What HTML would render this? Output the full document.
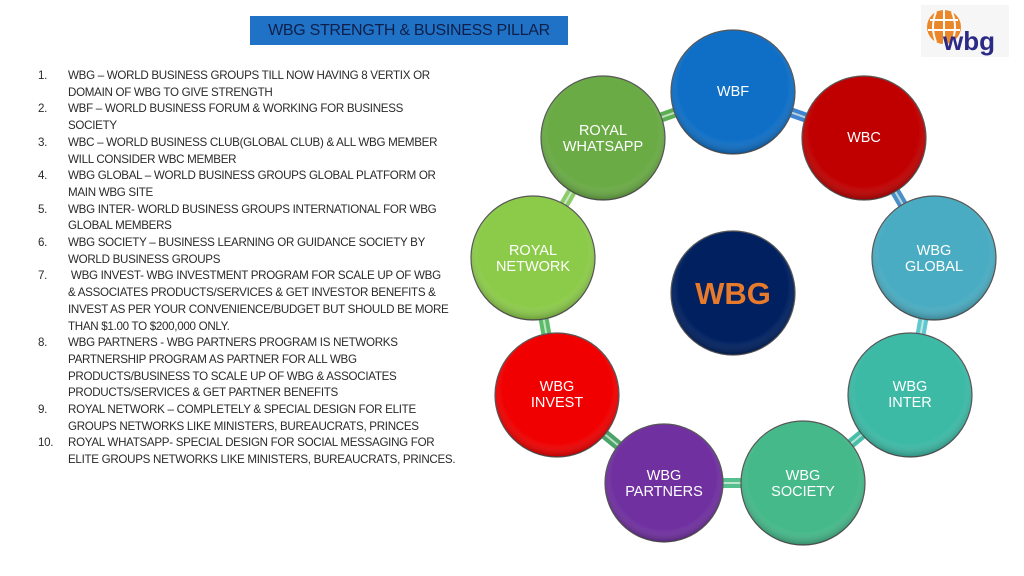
<!DOCTYPE html>
<html><head><meta charset="utf-8"><style>
body{margin:0;width:1024px;height:576px;background:#fff;overflow:hidden;position:relative;font-family:"Liberation Sans",sans-serif}
.title{position:absolute;left:250px;top:16px;width:318px;height:29px;background:#1f72c6;color:#0f1f4a;font-size:16px;line-height:29px;text-align:center;letter-spacing:-0.3px}
.l{position:absolute;font-size:11.6px;color:#2a2a2a;white-space:nowrap;letter-spacing:-0.3px;line-height:14px}
</style></head><body>
<div class="title">WBG STRENGTH &amp; BUSINESS PILLAR</div>
<div id="list"></div>
<div style="position:absolute;left:921px;top:5px;width:88px;height:52px;background:#f6f6f6"></div>
<svg width="1024" height="576" style="position:absolute;left:0;top:0">
<defs>
<radialGradient id="sh" cx="50%" cy="45%" r="55%"><stop offset="80%" stop-color="#fff" stop-opacity="0"/><stop offset="100%" stop-color="#000" stop-opacity="0.25"/></radialGradient>
</defs>
<circle cx="944" cy="27" r="17" fill="#e9872a"/>
<path d="M930 20h28M928 30h32M944 10v34M936 12q-6 15 0 30M952 12q6 15 0 30" stroke="#fff" stroke-width="2" fill="none"/>
<text x="943" y="50" font-family="Liberation Sans" font-weight="bold" font-size="26" fill="#2b2a86">wbg</text>
<g stroke-width="10" stroke-linecap="butt">
<line x1="603" y1="138" x2="733" y2="92" stroke="#5cae52"/>
<line x1="733" y1="92" x2="864" y2="138" stroke="#3f84d0"/>
<line x1="864" y1="138" x2="934" y2="258" stroke="#4a90c8"/>
<line x1="934" y1="258" x2="910" y2="395" stroke="#5fc8d0"/>
<line x1="910" y1="395" x2="803" y2="483" stroke="#45bfa8"/>
<line x1="803" y1="483" x2="664" y2="483" stroke="#55bf8e"/>
<line x1="664" y1="483" x2="557" y2="395" stroke="#4ca36a"/>
<line x1="557" y1="395" x2="533" y2="258" stroke="#5cbc6a"/>
<line x1="533" y1="258" x2="603" y2="138" stroke="#8ccc6a"/>
</g>
<g stroke="#e8f5e8" stroke-width="2" opacity="0.7">
<line x1="603" y1="138" x2="733" y2="92"/><line x1="733" y1="92" x2="864" y2="138"/><line x1="864" y1="138" x2="934" y2="258"/><line x1="934" y1="258" x2="910" y2="395"/><line x1="910" y1="395" x2="803" y2="483"/><line x1="803" y1="483" x2="664" y2="483"/><line x1="664" y1="483" x2="557" y2="395"/><line x1="557" y1="395" x2="533" y2="258"/><line x1="533" y1="258" x2="603" y2="138"/>
</g>
<g stroke="#555" stroke-width="1.2">
<circle cx="733" cy="92" r="62" fill="#0f6fc6"/>
<circle cx="864" cy="138" r="62" fill="#c00000"/>
<circle cx="934" cy="258" r="62" fill="#4aacc2"/>
<circle cx="910" cy="395" r="62" fill="#3dbaa6"/>
<circle cx="803" cy="483" r="62" fill="#45b98a"/>
<circle cx="664" cy="483" r="59" fill="#7030a0"/>
<circle cx="557" cy="395" r="62" fill="#f00000"/>
<circle cx="533" cy="258" r="62" fill="#8ccb4a"/>
<circle cx="603" cy="138" r="62" fill="#6aab45"/>
<circle cx="733" cy="293" r="62" fill="#002060"/>
</g>
<g fill="url(#sh)">
<circle cx="733" cy="92" r="62"/><circle cx="864" cy="138" r="62"/><circle cx="934" cy="258" r="62"/><circle cx="910" cy="395" r="62"/><circle cx="803" cy="483" r="62"/><circle cx="664" cy="483" r="59"/><circle cx="557" cy="395" r="62"/><circle cx="533" cy="258" r="62"/><circle cx="603" cy="138" r="62"/><circle cx="733" cy="293" r="62"/>
</g>
<g fill="#fff" font-family="Liberation Sans" font-size="14.5" text-anchor="middle">
<text x="733" y="96">WBF</text>
<text x="864" y="142">WBC</text>
<text x="934" y="255">WBG</text><text x="934" y="271">GLOBAL</text>
<text x="910" y="391">WBG</text><text x="910" y="407">INTER</text>
<text x="803" y="480">WBG</text><text x="803" y="496">SOCIETY</text>
<text x="664" y="480">WBG</text><text x="664" y="496">PARTNERS</text>
<text x="557" y="391">WBG</text><text x="557" y="407">INVEST</text>
<text x="533" y="255">ROYAL</text><text x="533" y="271">NETWORK</text>
<text x="603" y="135">ROYAL</text><text x="603" y="151">WHATSAPP</text>
</g>
<text x="733" y="304" text-anchor="middle" font-family="Liberation Sans" font-weight="bold" font-size="31" fill="#e87a2c">WBG</text>
</svg>
<script>
var L=[["1.","WBG – WORLD BUSINESS GROUPS TILL NOW HAVING 8 VERTIX OR"],["","DOMAIN OF WBG TO GIVE STRENGTH"],["2.","WBF – WORLD BUSINESS FORUM &amp; WORKING FOR BUSINESS"],["","SOCIETY"],["3.","WBC – WORLD BUSINESS CLUB(GLOBAL CLUB) &amp; ALL WBG MEMBER"],["","WILL CONSIDER WBC MEMBER"],["4.","WBG GLOBAL – WORLD BUSINESS GROUPS GLOBAL PLATFORM OR"],["","MAIN WBG SITE"],["5.","WBG INTER- WORLD BUSINESS GROUPS INTERNATIONAL FOR WBG"],["","GLOBAL MEMBERS"],["6.","WBG SOCIETY – BUSINESS LEARNING OR GUIDANCE SOCIETY BY"],["","WORLD BUSINESS GROUPS"],["7.","&nbsp;WBG INVEST- WBG INVESTMENT PROGRAM FOR SCALE UP OF WBG"],["","&amp; ASSOCIATES PRODUCTS/SERVICES &amp; GET INVESTOR BENEFITS &amp;"],["","INVEST AS PER YOUR CONVENIENCE/BUDGET BUT SHOULD BE MORE"],["","THAN $1.00 TO $200,000 ONLY."],["8.","WBG PARTNERS - WBG PARTNERS PROGRAM IS NETWORKS"],["","PARTNERSHIP PROGRAM AS PARTNER FOR ALL WBG"],["","PRODUCTS/BUSINESS TO SCALE UP OF WBG &amp; ASSOCIATES"],["","PRODUCTS/SERVICES &amp; GET PARTNER BENEFITS"],["9.","ROYAL NETWORK – COMPLETELY &amp; SPECIAL DESIGN FOR ELITE"],["","GROUPS NETWORKS LIKE MINISTERS, BUREAUCRATS, PRINCES"],["10.","ROYAL WHATSAPP- SPECIAL DESIGN FOR SOCIAL MESSAGING FOR"],["","ELITE GROUPS NETWORKS LIKE MINISTERS, BUREAUCRATS, PRINCES."]];
var h="";for(var i=0;i<L.length;i++){var y=69+i*16.7;if(L[i][0])h+='<div class="l" style="left:38px;top:'+y+'px">'+L[i][0]+'</div>';h+='<div class="l" style="left:68px;top:'+y+'px">'+L[i][1]+'</div>';}
document.getElementById("list").innerHTML=h;
</script>
</body></html>
